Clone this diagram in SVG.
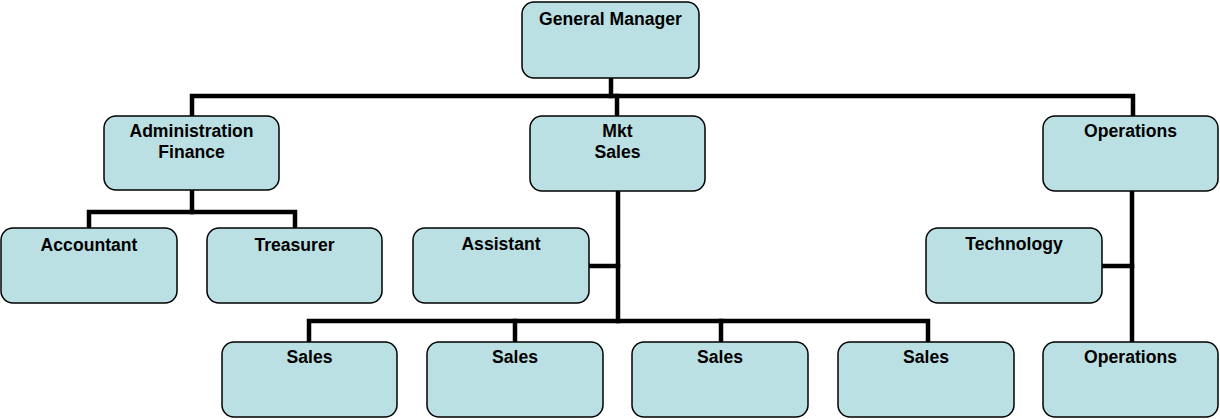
<svg xmlns="http://www.w3.org/2000/svg" width="1220" height="419" viewBox="0 0 1220 419">
<style>
.box{fill:#bae0e3;stroke:#000;stroke-width:1.5}
.t{font-family:"Liberation Sans",Arial,sans-serif;font-weight:bold;font-size:17.6px;fill:#000;text-anchor:middle}
.c{fill:none;stroke:#000;stroke-width:4.5;stroke-linecap:square;stroke-linejoin:miter}
</style>
<rect width="1220" height="419" fill="#fff"/>
<g id="connectors">
<path class="c" d="M611,78 V96"/>
<path class="c" d="M192,116 V96 H1133 V116"/>
<path class="c" d="M617,96 V116"/>
<path class="c" d="M192,190 V212"/>
<path class="c" d="M89,228 V212 H295 V228"/>
<path class="c" d="M618,191 V321"/>
<path class="c" d="M589,266 H618"/>
<path class="c" d="M309,342 V321 H928 V342"/>
<path class="c" d="M515,321 V342"/>
<path class="c" d="M721,321 V342"/>
<path class="c" d="M1132,191 V342"/>
<path class="c" d="M1102,266 H1132"/>
</g>
<g id="gm"><rect class="box" x="522" y="2" width="177" height="76" rx="12"/><text class="t" x="610.5" y="25">General Manager</text></g>
<g id="admin"><rect class="box" x="104" y="116" width="175" height="74" rx="12"/><text class="t" x="191.5" y="137">Administration</text><text class="t" x="191.5" y="158">Finance</text></g>
<g id="mkt"><rect class="box" x="530" y="116" width="175" height="75" rx="12"/><text class="t" x="617.5" y="137">Mkt</text><text class="t" x="617.5" y="158">Sales</text></g>
<g id="ops"><rect class="box" x="1043" y="116" width="175" height="75" rx="12"/><text class="t" x="1130.5" y="137">Operations</text></g>
<g id="accountant"><rect class="box" x="1" y="228" width="176" height="75" rx="12"/><text class="t" x="89" y="251">Accountant</text></g>
<g id="treasurer"><rect class="box" x="207" y="228" width="175" height="75" rx="12"/><text class="t" x="294.5" y="251">Treasurer</text></g>
<g id="assistant"><rect class="box" x="413" y="228" width="176" height="75" rx="12"/><text class="t" x="501" y="250">Assistant</text></g>
<g id="technology"><rect class="box" x="926" y="228" width="176" height="75" rx="12"/><text class="t" x="1014" y="250">Technology</text></g>
<g id="sales1"><rect class="box" x="222" y="342" width="175" height="75" rx="12"/><text class="t" x="309.5" y="363">Sales</text></g>
<g id="sales2"><rect class="box" x="427" y="342" width="176" height="75" rx="12"/><text class="t" x="515" y="363">Sales</text></g>
<g id="sales3"><rect class="box" x="632" y="342" width="176" height="75" rx="12"/><text class="t" x="720" y="363">Sales</text></g>
<g id="sales4"><rect class="box" x="838" y="342" width="176" height="75" rx="12"/><text class="t" x="926" y="363">Sales</text></g>
<g id="ops2"><rect class="box" x="1043" y="342" width="175" height="75" rx="12"/><text class="t" x="1130.5" y="363">Operations</text></g>
</svg>
